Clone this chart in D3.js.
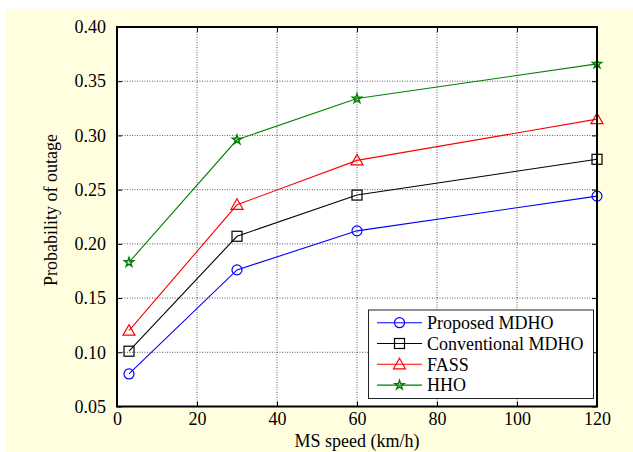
<!DOCTYPE html>
<html><head><meta charset="utf-8">
<script src="https://cdn.jsdelivr.net/npm/d3@7"></script>
<style>html,body{margin:0;padding:0;background:#fff;}svg{display:block;}</style>
</head><body>
<svg id="c" width="633" height="452"></svg>
<script>
const speeds = [3, 30, 60, 120];
const proposedMDHO = [0.080, 0.176, 0.212, 0.244];
const conventionalMDHO = [0.101, 0.207, 0.245, 0.278];
const fass = [0.120, 0.236, 0.277, 0.315];
const hho = [0.183, 0.296, 0.334, 0.366];
const seriesNames = ["Proposed MDHO", "Conventional MDHO", "FASS", "HHO"];
const seriesColors = ["#0000ff", "#000000", "#ff0000", "#008000"];
const seriesMarkers = ["circle", "square", "triangle", "star"];
const xTicks = [0, 20, 40, 60, 80, 100, 120];
const yTicks = [0.05, 0.10, 0.15, 0.20, 0.25, 0.30, 0.35, 0.40];
const xLabel = "MS speed (km/h)";
const yLabel = "Probability of outage";

const series = [proposedMDHO, conventionalMDHO, fass, hho].map((vals, i) => ({
  name: seriesNames[i], color: seriesColors[i], marker: seriesMarkers[i],
  pts: vals.map((v, j) => [speeds[j], v])
}));

const svg = d3.select("#c");
const font = "Liberation Serif, Times New Roman, serif";
const fs = 18;
svg.append("rect").attr("x", 6).attr("y", 9).attr("width", 627).attr("height", 443).attr("fill", "#ffffe0");

const L = 117, R = 597, T = 27, B = 406.5;
const x = d3.scaleLinear().domain([0, 120]).range([L, R]);
const y = d3.scaleLinear().domain([0.05, 0.40]).range([B, T]);

svg.append("rect").attr("x", L).attr("y", T).attr("width", R - L).attr("height", B - T).attr("fill", "#fff");

// grid
const g = svg.append("g");
g.selectAll(".gx").data(xTicks.slice(1, -1)).enter().append("line")
  .attr("x1", d => x(d)).attr("x2", d => x(d)).attr("y1", T).attr("y2", B)
  .attr("stroke", "#333").attr("stroke-width", 0.8).attr("stroke-dasharray", "1,1.5");
g.selectAll(".gy").data(yTicks.slice(1, -1)).enter().append("line")
  .attr("y1", d => y(d)).attr("y2", d => y(d)).attr("x1", L).attr("x2", R)
  .attr("stroke", "#333").attr("stroke-width", 0.8).attr("stroke-dasharray", "1,1.5");

// axes
const xAxisB = d3.axisBottom(x).tickValues(xTicks).tickSizeInner(-5).tickSizeOuter(0).tickPadding(6).tickFormat(d3.format("d"));
const xAxisT = d3.axisTop(x).tickValues(xTicks).tickSizeInner(-5).tickSizeOuter(0).tickFormat("");
const yAxisL = d3.axisLeft(y).tickValues(yTicks).tickSizeInner(-5).tickSizeOuter(0).tickPadding(11).tickFormat(d3.format(".2f"));
const yAxisR = d3.axisRight(y).tickValues(yTicks).tickSizeInner(-5).tickSizeOuter(0).tickFormat("");
function style(sel) {
  sel.select(".domain").remove();
  sel.selectAll("line").attr("stroke", "#000").attr("stroke-width", 1);
  sel.selectAll("text").attr("font-family", font).attr("font-size", fs).attr("fill", "#000");
}
svg.append("g").attr("transform", `translate(0,${B})`).call(xAxisB).call(style);
svg.append("g").attr("transform", `translate(0,${T})`).call(xAxisT).call(style);
svg.append("g").attr("transform", `translate(${L},0)`).call(yAxisL).call(style);
svg.append("g").attr("transform", `translate(${R},0)`).call(yAxisR).call(style);

// markers
function drawMarker(sel, type, color, cx, cy) {
  if (type === "circle") {
    sel.append("circle").attr("cx", cx).attr("cy", cy).attr("r", 5).attr("fill", "none").attr("stroke", color).attr("stroke-width", 1.2);
  } else if (type === "square") {
    sel.append("rect").attr("x", cx - 5).attr("y", cy - 5).attr("width", 10).attr("height", 10).attr("fill", "none").attr("stroke", color).attr("stroke-width", 1.2);
  } else if (type === "triangle") {
    sel.append("path").attr("d", `M${cx},${cy - 6}L${cx + 6},${cy + 4.5}L${cx - 6},${cy + 4.5}Z`).attr("fill", "none").attr("stroke", color).attr("stroke-width", 1.2);
  } else {
    sel.append("path").attr("d", d3.symbol(d3.symbolStar, 26)()).attr("transform", `translate(${cx},${cy})`).attr("fill", "none").attr("stroke", color).attr("stroke-width", 1.4);
  }
}

const line = d3.line().x(d => x(d[0])).y(d => y(d[1]));
series.forEach(s => {
  svg.append("path").attr("d", line(s.pts)).attr("fill", "none").attr("stroke", s.color).attr("stroke-width", 1.1);
  const mg = svg.append("g");
  s.pts.forEach(p => drawMarker(mg, s.marker, s.color, x(p[0]), y(p[1])));
});

// frame
svg.append("rect").attr("x", L).attr("y", T).attr("width", R - L).attr("height", B - T).attr("fill", "none").attr("stroke", "#000").attr("stroke-width", 2);

// legend
const lg = svg.append("g");
lg.append("rect").attr("x", 368.5).attr("y", 310).attr("width", 225).attr("height", 88.5).attr("fill", "#fff").attr("stroke", "#222").attr("stroke-width", 1);
series.forEach((s, i) => {
  const ly = 322.7 + i * 20.8;
  lg.append("line").attr("x1", 377).attr("x2", 422).attr("y1", ly).attr("y2", ly).attr("stroke", s.color).attr("stroke-width", 1.1);
  drawMarker(lg, s.marker, s.color, 399.5, ly);
  lg.append("text").attr("x", 427).attr("y", ly).attr("dy", "0.35em").attr("font-family", font).attr("font-size", fs).attr("fill", "#000").text(s.name);
});

// axis labels
svg.append("text").attr("x", (L + R) / 2).attr("y", 446.5).attr("text-anchor", "middle").attr("font-family", font).attr("font-size", fs).text(xLabel);
svg.append("text").attr("transform", `translate(57,210) rotate(-90)`).attr("text-anchor", "middle").attr("font-family", font).attr("font-size", fs).text(yLabel);
</script>
</body></html>
